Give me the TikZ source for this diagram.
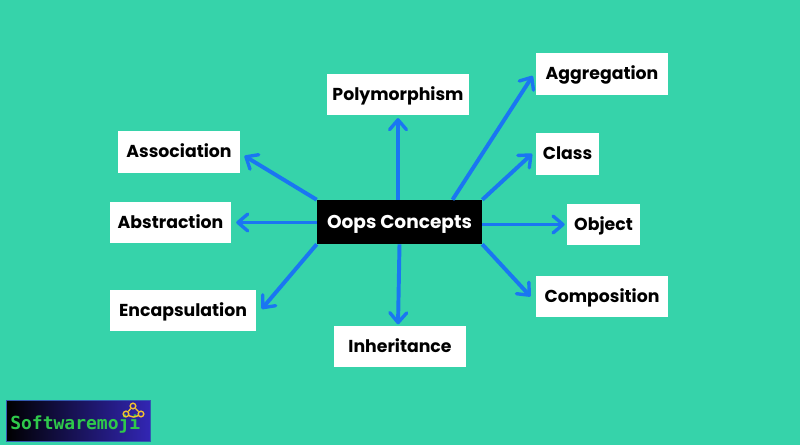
\documentclass[tikz,border=0pt]{standalone}
\usepackage{fontspec}
\setmainfont{Poppins}
\newfontfamily\logofont{DejaVu Sans Mono}
\usetikzlibrary{positioning,arrows.meta}
\definecolor{bggreen}{HTML}{36D3AA}
\definecolor{arrowblue}{HTML}{1A76F2}
\definecolor{logogreen}{HTML}{2FC94B}
\definecolor{logoblue}{HTML}{3226B4}
\definecolor{logoyellow}{HTML}{F2C230}
\tikzset{
  concept/.style={fill=white, inner sep=0pt, font=\bfseries\fontsize{12.3}{14}\selectfont, text=black, text height=11pt, text depth=2.5pt},
  link/.style={arrowblue, line width=2.8pt, -{Straight Barb[length=7pt, width=12pt, line width=2.4pt, round]}},
  joint/.style={circle, draw=logoyellow, line width=1pt, inner sep=0pt, minimum size=4pt}
}
\begin{document}
\begin{tikzpicture}[x=0.025cm, y=-0.025cm]
  \fill[bggreen] (0,0) rectangle (800,445);
  \useasboundingbox (0,0) rectangle (800,445);

  \node[fill=black, text=white, inner sep=0pt, minimum width=165*0.025cm, minimum height=44*0.025cm, font=\bfseries\fontsize{13.2}{16}\selectfont, text height=11.4pt, text depth=2.5pt] (oops) at (399.5,222) {Oops Concepts};

  \node[concept, minimum width=142*0.025cm, minimum height=41*0.025cm] (poly) at (398,94.5) {Polymorphism};
  \node[concept, minimum width=132*0.025cm, minimum height=42*0.025cm] (aggr) at (602,74) {Aggregation};
  \node[concept, minimum width=63*0.025cm, minimum height=42*0.025cm] (class) at (567.5,154) {Class};
  \node[concept, minimum width=73*0.025cm, minimum height=41*0.025cm] (object) at (603.5,224.5) {Object};
  \node[concept, minimum width=132*0.025cm, minimum height=41*0.025cm] (comp) at (602,296.5) {Composition};
  \node[concept, minimum width=132*0.025cm, minimum height=41*0.025cm] (inher) at (400,346.5) {Inheritance};
  \node[concept, minimum width=146*0.025cm, minimum height=41*0.025cm] (encap) at (183,310.5) {Encapsulation};
  \node[concept, minimum width=121*0.025cm, minimum height=41*0.025cm] (abstr) at (170.5,222.5) {Abstraction};
  \node[concept, minimum width=122*0.025cm, minimum height=42*0.025cm] (assoc) at (179,152) {Association};

  \draw[link, shorten >=2pt] (oops.north -| poly) -- (poly.south);
  \draw[link, shorten >=4pt] ([xshift=53*0.025cm]oops.north) -- ([yshift=2pt]aggr.west);
  \draw[link, shorten >=3.5pt] (oops.north east) -- ([yshift=2.5pt]class.west);
  \draw[link, shorten >=1.5pt] (oops.east |- object) -- (object.west);
  \draw[link, shorten >=5.5pt] (oops.south east) -- ([yshift=-4pt]comp.west);
  \draw[link, shorten >=1pt] (oops.south) -- (inher.north -| 398,0);
  \draw[link, shorten >=6pt] (oops.south west) -- ([yshift=-3.5pt]encap.east);
  \draw[link, shorten >=3.5pt] (oops.west |- abstr) -- (abstr.east);
  \draw[link, shorten >=3.5pt] (oops.north west) -- ([yshift=-1pt]assoc.east);

  % logo
  \node[left color=black, right color=logoblue, draw=logoblue!70!bggreen, line width=0.4pt, inner sep=0pt, minimum width=144*0.025cm, minimum height=41*0.025cm] (logo) at (78,420.5) {};
  \node[text=logogreen, inner sep=0pt, font=\logofont\fontsize{12.8}{15}\selectfont\bfseries, anchor=west] (logotext) at (10,424) {Softwaremoji};
  \node[joint] (top) at (133,406) {};
  \node[joint] (left) at (126,414) {};
  \node[joint] (right) at (141,414) {};
  \draw[logoyellow, line width=1pt] (top) -- (left) (top) -- (right);
  \draw[logoyellow, line width=1pt] (left) to[bend right=30] (right);
\end{tikzpicture}
\end{document}
